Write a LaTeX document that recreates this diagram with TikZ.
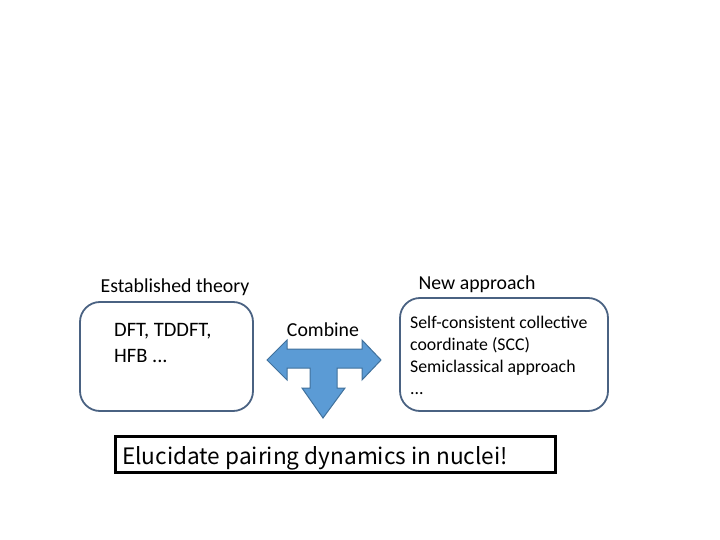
\documentclass[tikz,border=0pt]{standalone}
\usepackage{fontspec}
\setmainfont{Carlito}
\newfontfamily\gothic{Noto Sans CJK JP}
\definecolor{boxline}{HTML}{4A6282}
\definecolor{arrowfill}{HTML}{5B9BD5}
\definecolor{arrowline}{HTML}{41719C}
\begin{document}
\begin{tikzpicture}[x=1pt,y=-1pt,
  roundbox/.style={draw=boxline,line width=1.8pt,rounded corners=20pt},
  lbl/.style={font=\fontsize{19.8}{22}\selectfont,inner sep=0pt},
  body/.style={inner sep=0pt,align=left,anchor=north west}]
\useasboundingbox (0,0) rectangle (720,540);
% boxes
\draw[roundbox] (80,302) rectangle (253,411);
\draw[roundbox] (400,298) rectangle (608,411);
\node[draw=black,line width=2.8pt,minimum width=440pt,minimum height=36pt,inner sep=0pt] (goal) at (335.5,454.5) {};
% labels
\node[lbl] (est) at (175,287) {Established theory};
\node[lbl] (new) at (477,284) {New approach};
\node[body,font=\fontsize{20.5}{26}\selectfont] (ltxt) at (114,323) {DFT, TDDFT,\\HFB ...};
\node[body,font=\fontsize{17.8}{22}\selectfont] (rtxt) at (410,316) {Self-consistent collective\\coordinate (SCC)\\Semiclassical approach\\...};
% T arrow
\draw[fill=arrowfill,draw=arrowline,line width=1pt,line join=miter]
  (267,360) -- (287,340) -- (287,349) -- (362,349) -- (362,340) -- (381,360)
  -- (362,380) -- (362,368) -- (337,368) -- (337,388) -- (345,388) -- (323,418)
  -- (302,388) -- (310,388) -- (310,368) -- (287,368) -- (287,380) -- cycle;
\node[lbl] (comb) at (323,330) {Combine};
\node[font=\gothic\fontsize{22.6}{24}\selectfont,anchor=west,inner sep=0pt] (goaltxt) at (122,458) {Elucidate pairing dynamics in nuclei!};
\end{tikzpicture}
\end{document}
